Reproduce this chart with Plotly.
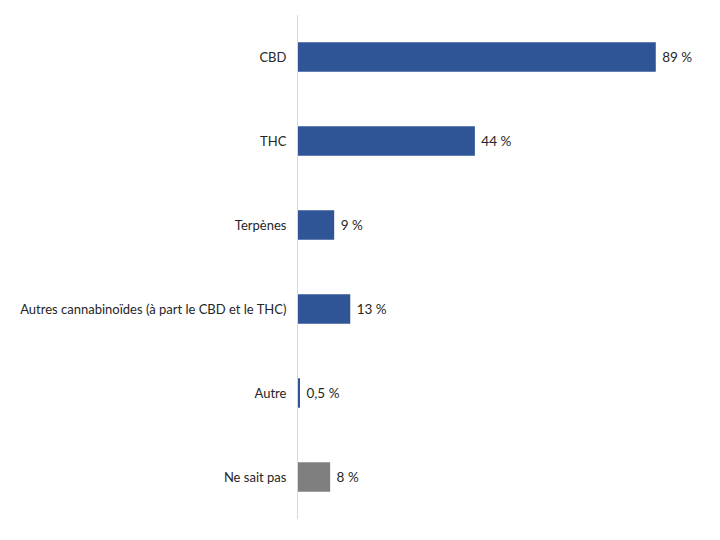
import plotly.graph_objects as go

categories = ["CBD", "THC", "Terpènes", "Autres cannabinoïdes (à part le CBD et le THC)", "Autre", "Ne sait pas"]
values = [89, 44, 9, 13, 0.5, 8]
labels = ["89 %", "44 %", "9 %", "13 %", "0,5 %", "8 %"]
colors = ["#2F5597", "#2F5597", "#2F5597", "#2F5597", "#2F5597", "#7F7F7F"]

fig = go.Figure(go.Bar(
    x=values, y=categories, orientation="h",
    marker=dict(color=colors, line=dict(width=0)),
    text=labels, texttemplate=" %{text}", textposition="outside", cliponaxis=False,
    textfont=dict(size=13.5, color="#262626", family="Lato"),
    width=0.35,
))

fig.update_layout(
    width=720, height=540,
    margin=dict(l=298, r=20, t=15, b=21),
    plot_bgcolor="white", paper_bgcolor="white",
    font=dict(family="Lato", size=13, color="#262626"),
    showlegend=False,
    bargap=0.65,
)
fig.update_xaxes(range=[0, 100], visible=False, showgrid=False, zeroline=False)
fig.update_yaxes(autorange="reversed", showline=True, linecolor="#D9D9D9", linewidth=1,
                 ticks="", ticklabelstandoff=8, showgrid=False,
                 tickfont=dict(size=13, color="#262626", family="Lato"))

fig.write_html("out.html")
